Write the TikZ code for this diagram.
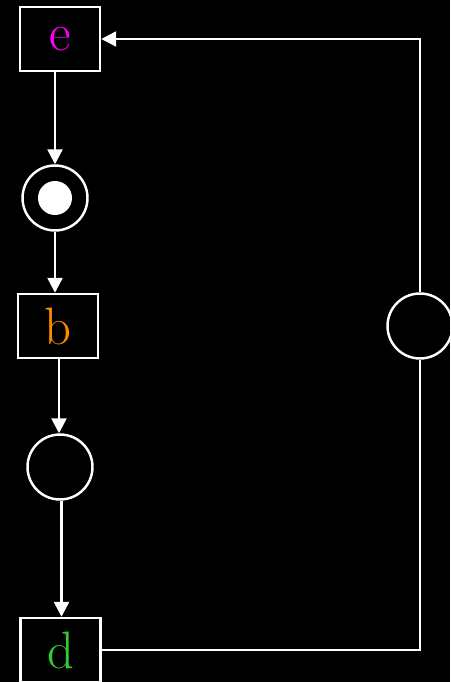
\documentclass[tikz,border=0pt]{standalone}
\usetikzlibrary{arrows.meta}

\definecolor{emag}{RGB}{255,0,255}
\definecolor{borange}{RGB}{255,140,0}
\definecolor{dgreen}{RGB}{50,205,50}

\tikzset{
    trans/.style={draw=white, line width=1.4pt, fill=black, minimum width=1.6cm, minimum height=1.28cm, inner sep=0pt, font=\fontsize{30}{36}\selectfont},
    place/.style={draw=white, line width=1.4pt, circle, minimum size=1.3cm, inner sep=0pt},
    token/.style={fill=white, circle, minimum size=0.68cm, inner sep=0pt},
    arc/.style={white, line width=1.4pt, -{Triangle[length=0.3cm, width=0.3cm]}},
    link/.style={white, line width=1.4pt}
}

\begin{document}
\begin{tikzpicture}[x=0.02cm, y=-0.02cm]
   \useasboundingbox (0,0) rectangle (450,682);
   \fill[black] (0,0) rectangle (450,682);

   % Transitions
   \node[trans, text=emag] (e) at (60,39) {e};
   \node[trans, text=borange] (b) at (58,326) {b};
   \node[trans, text=dgreen] (d) at (60.5,650) {d};

   % Places
   \node[place] (p1) at (55,198) {};
   \node[token] (tok) at (p1) {};
   \node[place] (p2) at (60,467) {};
   \node[place] (p3) at (420,326) {};

   % Arcs down the left column
   \draw[arc] (e.south -| p1) -- (p1);
   \draw[arc] (p1.south) -- (p1.south |- b.north);
   \draw[arc] (b.south -| 59,0) -- (59,0 |- p2.north);
   \draw[arc] (p2.south -| 61.5,0) -- (61.5,0 |- d.north);

   % Arc back up the right side
   \draw[link] (d.east) -| (p3.south);
   \draw[arc] (p3.north) |- (e.east);
\end{tikzpicture}
\end{document}
